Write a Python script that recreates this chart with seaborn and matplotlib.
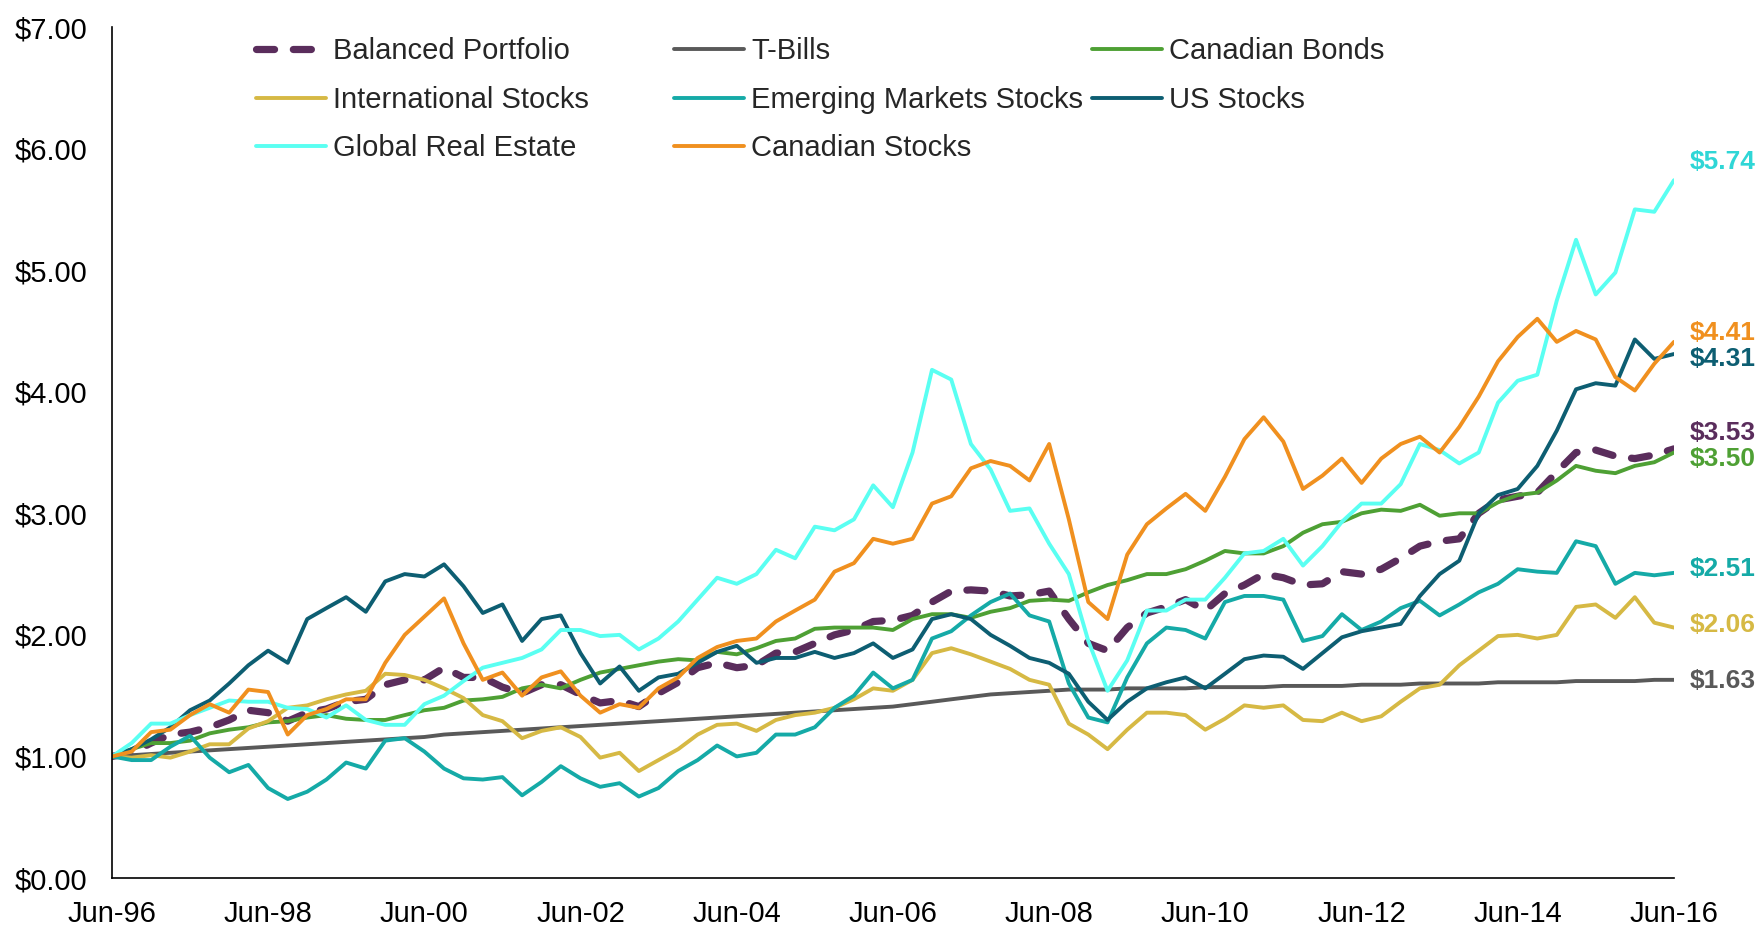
import pandas as pd
import seaborn as sns
import matplotlib.pyplot as plt
import matplotlib.dates as mdates
from matplotlib.transforms import blended_transform_factory

# quarterly growth of $1, Jun-96 .. Jun-16 (81 points)
balanced = [1.00, 1.03, 1.11, 1.18, 1.20, 1.24, 1.30, 1.38, 1.36, 1.29, 1.36, 1.39, 1.45, 1.47, 1.59,
            1.63, 1.63, 1.73, 1.65, 1.65, 1.57, 1.52, 1.59, 1.59, 1.51, 1.44, 1.46, 1.41, 1.52, 1.61,
            1.73, 1.77, 1.73, 1.75, 1.85, 1.86, 1.93, 2.00, 2.04, 2.11, 2.12, 2.16, 2.27, 2.36,
            2.37, 2.36, 2.32, 2.33, 2.36, 2.13, 1.93, 1.87, 2.06, 2.18, 2.23, 2.29, 2.20, 2.34,
            2.41, 2.50, 2.47, 2.41, 2.42, 2.52, 2.50, 2.54, 2.63, 2.73, 2.77, 2.79, 3.00, 3.11, 3.14,
            3.17, 3.34, 3.50, 3.52, 3.47, 3.45, 3.48, 3.53]
tbills = [1.00, 1.01, 1.02, 1.03, 1.04, 1.05, 1.06, 1.07, 1.08, 1.09, 1.10, 1.11, 1.12, 1.13, 1.14,
          1.15, 1.16, 1.18, 1.19, 1.20, 1.21, 1.22, 1.23, 1.24, 1.25, 1.26, 1.27, 1.28, 1.29, 1.30,
          1.31, 1.32, 1.33, 1.34, 1.35, 1.36, 1.37, 1.38, 1.39, 1.40, 1.41, 1.43, 1.45, 1.47,
          1.49, 1.51, 1.52, 1.53, 1.54, 1.55, 1.55, 1.55, 1.56, 1.56, 1.56, 1.56, 1.57, 1.57,
          1.57, 1.57, 1.58, 1.58, 1.58, 1.58, 1.59, 1.59, 1.59, 1.60, 1.60, 1.60, 1.60, 1.61, 1.61,
          1.61, 1.61, 1.62, 1.62, 1.62, 1.62, 1.63, 1.63]
cdn_bonds = [1.00, 1.06, 1.11, 1.11, 1.13, 1.19, 1.22, 1.24, 1.28, 1.29, 1.32, 1.34, 1.31, 1.30, 1.30,
             1.34, 1.38, 1.40, 1.46, 1.47, 1.49, 1.56, 1.59, 1.56, 1.63, 1.69, 1.72, 1.75, 1.78, 1.80,
             1.79, 1.86, 1.84, 1.89, 1.95, 1.97, 2.05, 2.06, 2.06, 2.06, 2.04, 2.13, 2.17, 2.17,
             2.14, 2.19, 2.22, 2.28, 2.29, 2.28, 2.35, 2.41, 2.45, 2.50, 2.50, 2.54, 2.61, 2.69,
             2.67, 2.67, 2.73, 2.84, 2.91, 2.93, 3.00, 3.03, 3.02, 3.07, 2.98, 3.00, 3.00, 3.09, 3.15,
             3.17, 3.27, 3.39, 3.35, 3.33, 3.39, 3.42, 3.50]
intl_stocks = [1.00, 0.99, 1.01, 0.99, 1.04, 1.10, 1.10, 1.23, 1.29, 1.40, 1.42, 1.47, 1.51, 1.54, 1.68,
               1.67, 1.63, 1.56, 1.48, 1.34, 1.29, 1.15, 1.21, 1.24, 1.16, 0.99, 1.03, 0.88, 0.97, 1.06,
               1.18, 1.26, 1.27, 1.21, 1.30, 1.34, 1.36, 1.40, 1.47, 1.56, 1.54, 1.63, 1.85, 1.89,
               1.84, 1.78, 1.72, 1.63, 1.59, 1.27, 1.18, 1.06, 1.22, 1.36, 1.36, 1.34, 1.22, 1.31,
               1.42, 1.40, 1.42, 1.30, 1.29, 1.36, 1.29, 1.33, 1.45, 1.56, 1.59, 1.75, 1.87, 1.99, 2.00,
               1.97, 2.00, 2.23, 2.25, 2.14, 2.31, 2.10, 2.06]
em_stocks = [1.00, 0.97, 0.97, 1.08, 1.17, 0.99, 0.87, 0.93, 0.74, 0.65, 0.71, 0.81, 0.95, 0.90, 1.13,
             1.15, 1.04, 0.90, 0.82, 0.81, 0.83, 0.68, 0.79, 0.92, 0.82, 0.75, 0.78, 0.67, 0.74, 0.88,
             0.97, 1.09, 1.00, 1.03, 1.18, 1.18, 1.24, 1.40, 1.50, 1.69, 1.56, 1.63, 1.97, 2.03,
             2.16, 2.27, 2.34, 2.16, 2.11, 1.60, 1.32, 1.28, 1.65, 1.93, 2.06, 2.04, 1.97, 2.27,
             2.32, 2.32, 2.29, 1.95, 1.99, 2.17, 2.04, 2.11, 2.22, 2.28, 2.16, 2.25, 2.35, 2.42, 2.54,
             2.52, 2.51, 2.77, 2.73, 2.42, 2.51, 2.49, 2.51]
us_stocks = [1.00, 1.06, 1.14, 1.24, 1.38, 1.46, 1.60, 1.75, 1.87, 1.77, 2.13, 2.22, 2.31, 2.19, 2.44,
             2.50, 2.48, 2.58, 2.40, 2.18, 2.25, 1.95, 2.13, 2.16, 1.85, 1.60, 1.74, 1.54, 1.65, 1.68,
             1.77, 1.86, 1.91, 1.77, 1.81, 1.81, 1.86, 1.81, 1.85, 1.93, 1.81, 1.88, 2.13, 2.17,
             2.13, 2.00, 1.91, 1.81, 1.77, 1.68, 1.45, 1.30, 1.45, 1.56, 1.61, 1.65, 1.56, 1.68,
             1.80, 1.83, 1.82, 1.72, 1.85, 1.98, 2.03, 2.06, 2.09, 2.32, 2.50, 2.61, 3.00, 3.15, 3.20,
             3.39, 3.68, 4.02, 4.07, 4.05, 4.43, 4.27, 4.31]
real_estate = [1.00, 1.11, 1.27, 1.27, 1.34, 1.40, 1.46, 1.45, 1.45, 1.40, 1.39, 1.32, 1.42, 1.30, 1.26,
               1.26, 1.43, 1.50, 1.62, 1.73, 1.77, 1.81, 1.88, 2.04, 2.04, 1.99, 2.00, 1.88, 1.97, 2.11,
               2.29, 2.47, 2.42, 2.50, 2.70, 2.63, 2.89, 2.86, 2.95, 3.23, 3.05, 3.50, 4.18, 4.10,
               3.57, 3.36, 3.02, 3.04, 2.75, 2.50, 1.95, 1.54, 1.79, 2.20, 2.20, 2.29, 2.29, 2.47,
               2.67, 2.69, 2.79, 2.57, 2.73, 2.93, 3.08, 3.08, 3.24, 3.57, 3.52, 3.41, 3.50, 3.91, 4.09,
               4.14, 4.75, 5.25, 4.80, 4.98, 5.50, 5.48, 5.74]
cdn_stocks = [1.00, 1.04, 1.20, 1.22, 1.34, 1.43, 1.36, 1.55, 1.53, 1.18, 1.34, 1.39, 1.47, 1.47, 1.77,
              2.00, 2.15, 2.30, 1.93, 1.63, 1.69, 1.50, 1.65, 1.70, 1.50, 1.36, 1.43, 1.40, 1.56, 1.65,
              1.81, 1.90, 1.95, 1.97, 2.11, 2.20, 2.29, 2.52, 2.59, 2.79, 2.75, 2.79, 3.08, 3.14,
              3.37, 3.43, 3.39, 3.27, 3.57, 2.95, 2.27, 2.13, 2.66, 2.91, 3.04, 3.16, 3.02, 3.30,
              3.61, 3.79, 3.59, 3.20, 3.31, 3.45, 3.25, 3.45, 3.57, 3.63, 3.50, 3.71, 3.96, 4.25, 4.45,
              4.60, 4.41, 4.50, 4.43, 4.12, 4.01, 4.23, 4.41]

names = ["Balanced Portfolio", "T-Bills", "Canadian Bonds", "International Stocks",
         "Emerging Markets Stocks", "US Stocks", "Global Real Estate", "Canadian Stocks"]
values = [balanced, tbills, cdn_bonds, intl_stocks, em_stocks, us_stocks, real_estate, cdn_stocks]

colors = {
    "Balanced Portfolio": "#5a2d5c",
    "T-Bills": "#595959",
    "Canadian Bonds": "#4ea034",
    "International Stocks": "#d6b944",
    "Emerging Markets Stocks": "#15aaa7",
    "US Stocks": "#0d5e72",
    "Global Real Estate": "#5afff2",
    "Canadian Stocks": "#f0901f",
}
label_colors = dict(colors, **{"Global Real Estate": "#2fd6d6"})
# vertical nudge of the end labels so they don't collide
label_nudge = {
    "Balanced Portfolio": 0.13, "T-Bills": -0.01, "Canadian Bonds": -0.05,
    "International Stocks": 0.02, "Emerging Markets Stocks": 0.03, "US Stocks": -0.04,
    "Global Real Estate": 0.15, "Canadian Stocks": 0.07,
}

dates = pd.date_range("1996-06-01", periods=len(balanced), freq="3MS")

sns.set_style("white")
plt.rcParams["font.family"] = ["Liberation Sans", "DejaVu Sans"]

fig = plt.figure(figsize=(17.58, 9.25), dpi=100)
ax = fig.add_axes([0.0637, 0.0508, 0.8885, 0.9200])

for name, vals in zip(names, values):
    if name == "Balanced Portfolio":
        sns.lineplot(x=dates, y=vals, ax=ax, color=colors[name], linewidth=5.2,
                     linestyle=(0, (2.5, 2.6)), dash_capstyle="round",
                     label=name, legend=False)
    else:
        sns.lineplot(x=dates, y=vals, ax=ax, color=colors[name], linewidth=2.8,
                     label=name, legend=False)

ax.set_xlim(dates[0], dates[-1])
ax.set_ylim(0, 7)
ax.set_yticks(range(0, 8))
ax.yaxis.set_major_formatter(plt.FuncFormatter(lambda v, p: f"${v:.2f}"))
ax.set_xticks(pd.date_range("1996-06-01", "2016-06-01", freq="24MS"))
ax.xaxis.set_major_formatter(mdates.DateFormatter("%b-%y"))
ax.tick_params(axis="both", length=0, labelsize=21, colors="black")
ax.tick_params(axis="x", pad=16)
ax.tick_params(axis="y", pad=18)
ax.set_xlabel("")
ax.set_ylabel("")
sns.despine(ax=ax)
for side in ["left", "bottom"]:
    ax.spines[side].set_color("black")
    ax.spines[side].set_linewidth(1.2)

# end-of-line value labels
trans = blended_transform_factory(ax.transAxes, ax.transData)
for name, vals in zip(names, values):
    ax.text(1.01, vals[-1] + label_nudge[name], f"${vals[-1]:.2f}", transform=trans,
            ha="left", va="center", fontsize=19, fontweight="bold",
            color=label_colors[name])

# legend laid out in three fixed columns, row order as in the original
lines = {ln.get_label(): ln for ln in ax.get_lines()}
columns = [["Balanced Portfolio", "International Stocks", "Global Real Estate"],
           ["T-Bills", "Emerging Markets Stocks", "Canadian Stocks"],
           ["Canadian Bonds", "US Stocks"]]
col_x = [0.1456, 0.3834, 0.6212]
for cx, col in zip(col_x, columns):
    fig.legend(handles=[lines[n] for n in col], labels=col, loc="upper left",
               bbox_to_anchor=(cx, 1 - 37 / 925), frameon=False, borderpad=0,
               borderaxespad=0, handlelength=2.4, handletextpad=0.25,
               labelspacing=0.71, fontsize=21)

fig.savefig("out.png", dpi=100)
